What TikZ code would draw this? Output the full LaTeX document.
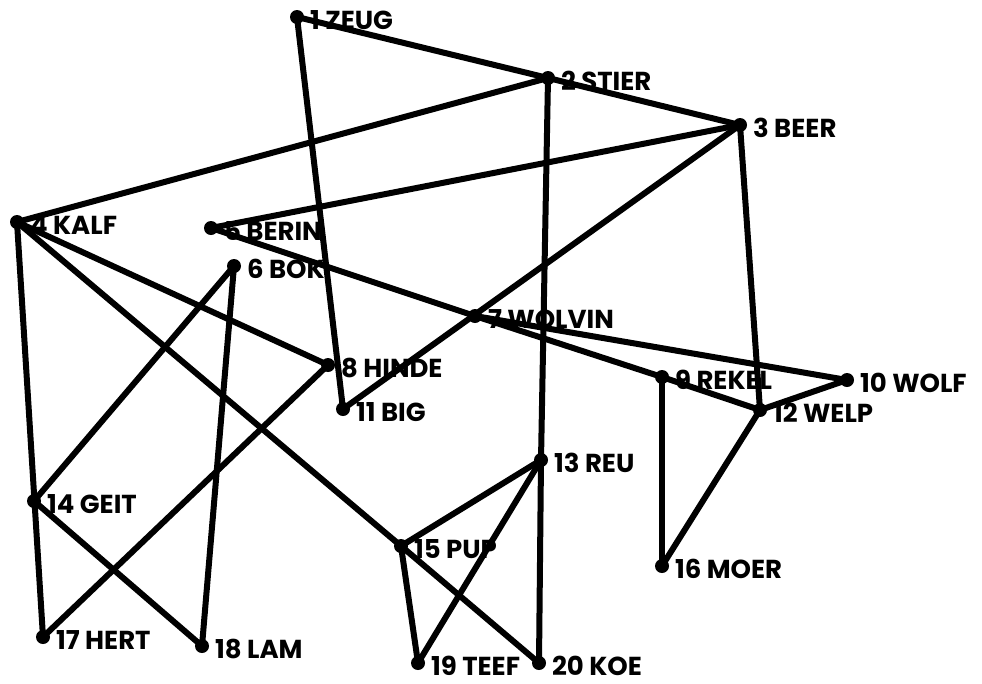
\documentclass[tikz,border=0pt]{standalone}
\usepackage{fontspec}
\setmainfont{Poppins}
\begin{document}
\begin{tikzpicture}[x=1pt, y=-1pt, line width=6pt,
  dot/.style={circle, fill, inner sep=0pt, minimum size=14pt},
  tag/.style={anchor=west, inner sep=0pt, font=\bfseries\fontsize{26}{26}\selectfont}]
\useasboundingbox (0,0) rectangle (982,683);
% vertices with their names
\foreach \n/\x/\y/\t in {1/297/17/ZEUG, 2/548/78/STIER, 3/740/125/BEER,
  4/17/222/KALF, 5/211/228/BERIN, 6/234/266/BOK, 7/475/316/WOLVIN,
  8/328/365/HINDE, 9/662/377/REKEL, 10/847/380/WOLF, 11/343/409/BIG,
  12/760/410/WELP, 13/541/460/REU, 14/34/501/GEIT, 15/401/546/PUP,
  16/662/566/MOER, 17/43/637/HERT, 18/202/646/LAM, 19/418/663/TEEF,
  20/539/663/KOE}
{
    \node[dot] (v\n) at (\x,\y) {};
    \node[tag] (t\n) at (\x+10,\y+3) {\n\ \t};
}
% edges
\foreach \a/\b in {1/2, 2/3, 1/11, 2/4, 2/13, 13/20, 3/5, 3/11, 3/12,
  4/8, 4/17, 4/15, 15/20, 5/7, 7/9, 9/12, 7/10, 6/14, 6/18, 8/17,
  9/16, 10/12, 12/16, 13/15, 13/19, 14/18, 15/19}
{
    \draw (v\a.center)--(v\b.center);
}
\end{tikzpicture}
\end{document}
